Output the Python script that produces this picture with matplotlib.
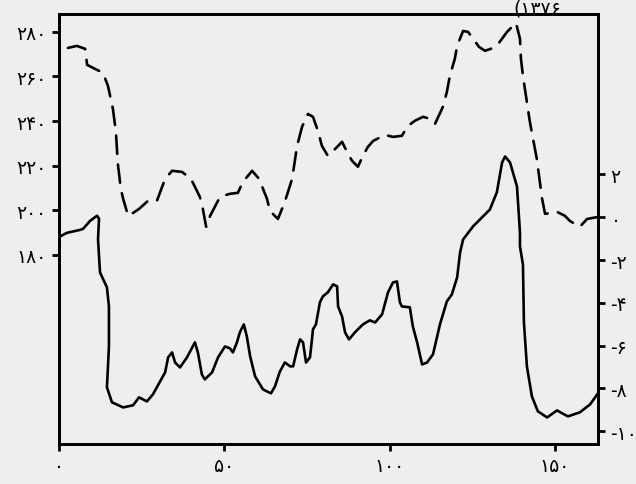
import matplotlib.pyplot as plt

# ========== DATA ==========
# dashed series (left axis)
dash_x = [2.7, 5.4, 7.9, 8.5, 10.9, 13.3, 14.8, 16.3, 17.2, 17.8, 18.7, 19.4, 20.9,
          22.4, 24.2, 26.9, 29.6, 32.1, 34.2, 37.2, 39.9, 42.6, 43.5, 44.5, 45.7,
          48.7, 51.7, 54.1, 55.6, 58.4, 60.5, 62.9, 63.8, 66.2, 68.3, 70.5, 72.0,
          73.5, 75.3, 76.8, 78.3, 79.5, 81.3, 83.5, 85.6, 87.1, 88.6, 90.4, 91.9,
          93.4, 95.0, 98.6, 101.0, 103.7, 105.5, 107.6, 110.1, 112.2, 113.7, 116.1,
          117.3, 118.2, 119.7, 120.4, 122.2, 123.7, 125.2, 127.0, 128.8, 130.6,
          132.4, 135.5, 138.2, 139.4, 139.7, 140.3, 142.4, 144.5, 146.1, 147.0,
          148.8, 150.6, 153.0, 154.5, 157.5, 159.7, 163.0]
dash_y = [272.8, 273.7, 272.4, 265.2, 263.4, 261.6, 255.8, 245.5, 235.2, 220.8, 209.6,
          205.1, 197.5, 198.8, 200.6, 204.2, 204.2, 214.1, 217.7, 217.2, 214.1, 206.0,
          200.6, 192.6, 197.5, 206.0, 207.4, 207.8, 212.7, 217.7, 214.1, 205.1, 199.7,
          196.1, 203.8, 214.1, 228.9, 237.4, 243.2, 241.9, 235.6, 228.9, 224.4, 227.5,
          230.7, 226.2, 222.2, 219.5, 224.4, 228.4, 231.1, 233.8, 232.9, 233.4, 237.8,
          240.1, 241.9, 241.0, 238.7, 246.4, 253.1, 260.3, 267.9, 273.7, 280.4, 280.0,
          276.9, 273.3, 271.5, 272.4, 273.7, 280.0, 284.0, 276.9, 267.9, 260.3, 239.6,
          223.0, 205.1, 198.4, 198.8, 199.3, 197.5, 195.2, 192.6, 196.1, 197.0]

# solid series (right axis)
solid_x = [0, 2.4, 6.4, 7.3, 9.4, 11.5, 12.1, 11.8, 12.4, 14.5, 15.1, 15.1, 14.5, 16.0,
           19.4, 22.4, 24.2, 26.6, 28.4, 32.1, 33.0, 34.2, 35.1, 36.6, 38.7, 41.1,
           42.0, 43.2, 44.1, 46.3, 48.1, 50.2, 51.7, 52.6, 53.8, 54.7, 55.9, 56.8,
           57.8, 59.3, 61.7, 64.1, 65.3, 66.8, 68.3, 69.9, 70.8, 72.0, 72.9, 73.8,
           74.7, 75.9, 76.5, 76.8, 77.7, 78.9, 79.8, 81.3, 82.9, 84.1, 84.4, 85.6,
           86.5, 87.7, 89.5, 91.9, 94.0, 95.6, 97.7, 99.5, 101.0, 102.2, 103.1, 103.7,
           106.1, 107.0, 108.3, 109.8, 111.3, 113.1, 115.2, 117.3, 118.8, 120.4,
           121.3, 122.2, 125.2, 130.3, 132.4, 134.0, 134.9, 136.4, 138.5, 139.4,
           139.4, 140.3, 140.6, 141.5, 143.0, 144.8, 147.6, 150.6, 153.9, 157.5,
           160.6, 163.0]
solid_y = [-0.92, -0.73, -0.59, -0.54, -0.17, 0.07, -0.07, -1.04, -2.58, -3.28, -4.17,
           -6.04, -7.95, -8.65, -8.89, -8.79, -8.42, -8.61, -8.28, -7.25, -6.55, -6.32,
           -6.79, -7.02, -6.55, -5.85, -6.32, -7.35, -7.58, -7.25, -6.55, -6.04, -6.13,
           -6.32, -5.85, -5.38, -5.01, -5.57, -6.50, -7.44, -8.05, -8.23, -7.91, -7.21,
           -6.79, -6.97, -6.97, -6.18, -5.71, -5.85, -6.79, -6.55, -5.71, -5.24, -5.01,
           -3.98, -3.70, -3.51, -3.14, -3.23, -4.17, -4.64, -5.38, -5.71, -5.38, -5.01,
           -4.82, -4.92, -4.54, -3.51, -3.05, -3.00, -3.98, -4.17, -4.21, -5.10, -5.85,
           -6.88, -6.79, -6.41, -5.01, -3.93, -3.61, -2.81, -1.64, -1.04, -0.43, 0.36,
           1.16, 2.56, 2.84, 2.56, 1.44, -0.71, -1.36, -2.21, -4.92, -6.97, -8.37, -9.07,
           -9.36, -9.03, -9.31, -9.12, -8.75, -8.23]

x_ticks = [0, 50, 100, 150]
left_ticks = [180, 200, 220, 240, 260, 280]
right_ticks = [-10, -8, -6, -4, -2, 0, 2]
title_text = "(۱۳۷۶"
# ==========================

FA_DIGITS = str.maketrans("0123456789", "۰۱۲۳۴۵۶۷۸۹")


def fa(v):
    return str(v).translate(FA_DIGITS)


BG = "#eeeeee"
LW = 1.9

fig = plt.figure(figsize=(6.36, 4.85), dpi=100, facecolor=BG)
ax = fig.add_axes([59 / 636, 40 / 485, 539 / 636, 430 / 485])
ax.set_facecolor(BG)
ax2 = ax.twinx()

ax.plot(dash_x, dash_y, color="black", lw=LW, dashes=(7, 4),
        dash_capstyle="round", dash_joinstyle="round")
ax2.plot(solid_x, solid_y, color="black", lw=LW, solid_joinstyle="round")

ax.set_xlim(0, 163)
ax.set_ylim(95.2, 288)
ax2.set_ylim(-10.6, 9.5)

ax.set_xticks(x_ticks)
ax.set_xticklabels([fa(t) for t in x_ticks])
ax.set_yticks(left_ticks)
ax.set_yticklabels([fa(t) for t in left_ticks])
ax2.set_yticks(right_ticks)
ax2.set_yticklabels([("-" + fa(-t)) if t < 0 else fa(t) for t in right_ticks])

for a in (ax, ax2):
    for s in a.spines.values():
        s.set_linewidth(2)
    a.tick_params(direction="out", length=5, width=2, labelsize=13.5, pad=4)

fig.text(537 / 636, 1 - 9 / 485, title_text, ha="center", va="center", fontsize=13.5)

fig.savefig("out.png", dpi=100, facecolor=BG)
